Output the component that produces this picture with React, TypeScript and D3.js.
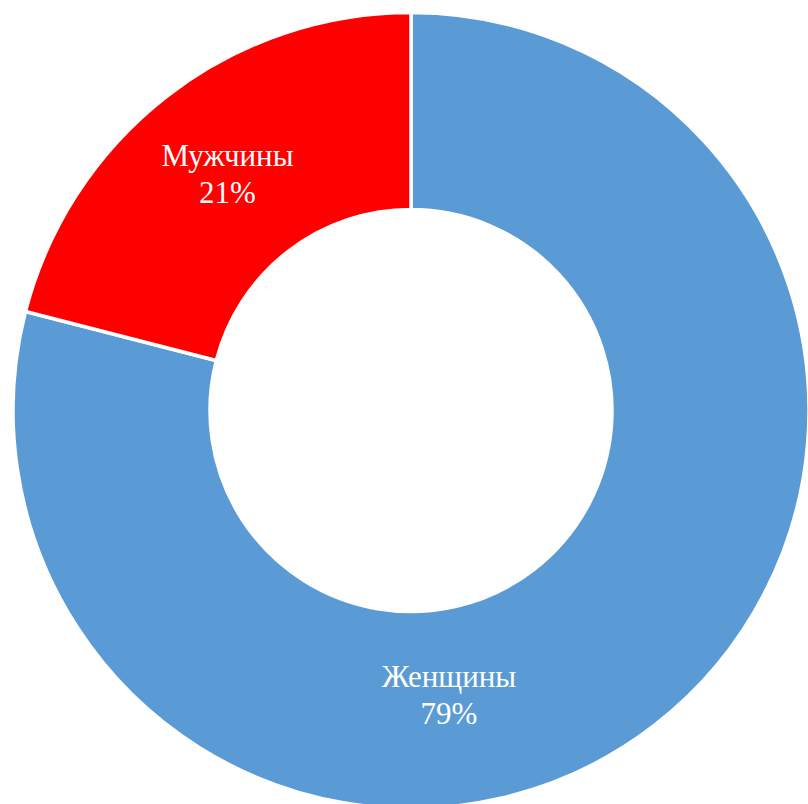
import React from "react";
import * as d3 from "d3";

const categories = ["Женщины", "Мужчины"];
const values = [79, 21];
const percentLabels = ["79%", "21%"];
const colors = ["#5B9BD5", "#FF0000"];

const W = 808;
const H = 804;
const cx = 411;
const cy = 410.5;
const outerR = 398;
const innerR = 201;

// label anchor overrides (angle in degrees clockwise from top, radius) – Excel-like placement
const labelPlacement: Array<{ angle: number; r: number } | null> = [
  { angle: 172.4, r: 287 },
  null,
];

export default function App() {
  const data = categories.map((c, i) => ({ c, v: values[i], p: percentLabels[i], col: colors[i] }));
  const pie = d3
    .pie<any>()
    .value((d) => d.v)
    .sort(null);
  const arcs = pie(data);
  const arc = d3.arc<any>().innerRadius(innerR).outerRadius(outerR);
  const fs = 31;
  const lh = 37;

  return (
    <svg
      width={W}
      height={H}
      style={{ position: "absolute", left: 0, top: 0, background: "#fff" }}
    >
      <g transform={`translate(${cx},${cy})`}>
        {arcs.map((a, i) => (
          <path key={i} d={arc(a) as string} fill={a.data.col} stroke="#fff" strokeWidth={3.5} strokeLinejoin="miter" />
        ))}
        {arcs.map((a, i) => {
          let x: number, y: number;
          const pl = labelPlacement[i];
          if (pl) {
            const t = (pl.angle * Math.PI) / 180;
            x = pl.r * Math.sin(t);
            y = -pl.r * Math.cos(t);
          } else {
            [x, y] = arc.centroid(a);
          }
          // block: cap top of first line to baseline of second line, centered at y
          const capH = fs * 0.662;
          const blockH = capH + lh;
          const base1 = y - blockH / 2 + capH;
          return (
            <text
              key={"t" + i}
              x={x}
              textAnchor="middle"
              fill="#fff"
              fontFamily="'Liberation Serif', 'Times New Roman', serif"
              fontSize={fs}
            >
              <tspan x={x} y={base1}>{a.data.c}</tspan>
              <tspan x={x} y={base1 + lh}>{a.data.p}</tspan>
            </text>
          );
        })}
      </g>
    </svg>
  );
}
